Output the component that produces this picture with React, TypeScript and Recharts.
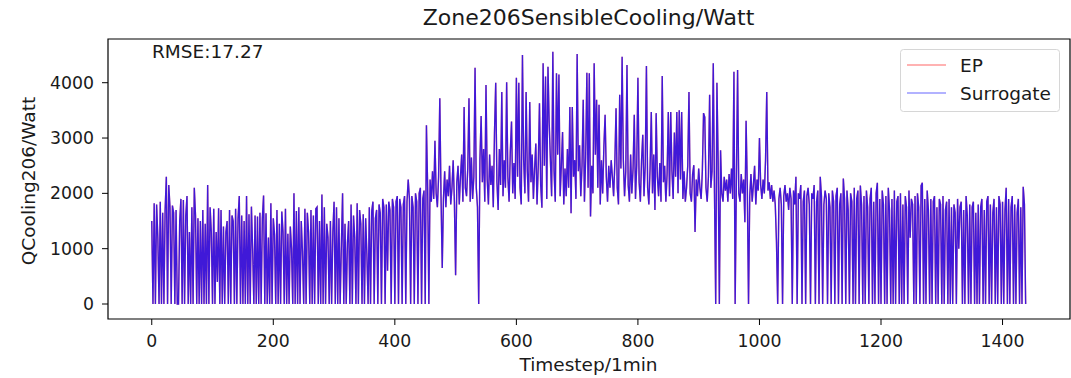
import { LineChart, Line, XAxis, YAxis, ReferenceArea } from "recharts";

const STEP = 2;

const epWatts = [
  1500, 0, 1820, 0, 1800, 1200, 0, 1850, 0, 1650, 0, 1700, 2300, 0, 2150, 1750, 0, 1780, 1650, 0,
  1700, 0, 0, 1500, 1900, 0, 1880, 0, 1600, 1950, 0, 1300, 0, 1750, 0, 2100, 1600, 0, 1550, 0,
  1500, 0, 1700, 0, 1450, 0, 2150, 0, 1750, 1300, 0, 1720, 0, 1300, 400, 1730, 0, 1700, 0, 1400,
  0, 1300, 1500, 0, 1700, 0, 1600, 1500, 0, 1720, 0, 1550, 1950, 0, 1600, 0, 1500, 0, 1950, 0,
  1620, 0, 1760, 1000, 0, 1600, 0, 1580, 0, 1650, 0, 1550, 1960, 0, 1640, 0, 1200, 0, 1820, 0,
  1550, 1250, 0, 1700, 0, 1450, 0, 1670, 1300, 0, 1720, 0, 1270, 0, 1400, 1000, 0, 2000, 0, 1680,
  0, 1750, 0, 1500, 950, 0, 1720, 0, 1650, 1300, 0, 1700, 0, 1600, 0, 1720, 1750, 0, 1500, 0,
  1980, 0, 1750, 0, 1450, 1200, 0, 1500, 0, 1300, 1850, 0, 1750, 0, 1550, 0, 1050, 2000, 0, 1450,
  0, 1100, 1500, 0, 1800, 0, 1600, 1200, 0, 1820, 0, 1700, 1450, 0, 1620, 0, 1550, 900, 0, 1750,
  0, 1680, 1850, 0, 1550, 1700, 0, 1800, 1650, 0, 1900, 1750, 0, 1800, 600, 1850, 1700, 0, 1900, 1750,
  0, 1850, 1950, 0, 1900, 1750, 0, 1800, 1950, 0, 1850, 2250, 1900, 0, 1950, 1750, 0, 2000, 1850, 0,
  2000, 2100, 0, 1900, 2050, 0, 3230, 2100, 0, 2250, 1850, 2400, 1900, 2950, 2000, 1750, 2300, 3720, 1950, 650,
  1900, 2400, 1750, 2250, 1950, 2500, 1800, 2100, 2600, 1850, 520, 2200, 2500, 1800, 2300, 2700, 1850, 3560, 2100, 1950,
  2450, 3720, 1850, 2650, 1900, 2300, 4270, 2100, 1750, 0, 2600, 3400, 2200, 2800, 1850, 3960, 2250, 1800, 2700, 2150,
  2500, 1750, 3100, 4000, 2200, 1700, 2800, 2150, 3830, 1950, 2600, 2100, 4010, 2300, 1850, 2750, 3300, 2000, 2550, 1900,
  4090, 2300, 4000, 2100, 1800, 4500, 2600, 2000, 3830, 2400, 1850, 3650, 2200, 2700, 1900, 2450, 2900, 1800, 2500, 3630,
  2150, 1740, 4350, 2500, 4110, 1900, 4290, 3270, 2600, 1950, 4560, 2400, 1850, 4170, 2700, 4150, 1950, 2500, 3110, 1800,
  2450, 1950, 2800, 2100, 3560, 1640, 3560, 2300, 2600, 1900, 4520, 2400, 2870, 1950, 2500, 3690, 1850, 2650, 4180, 2100,
  4170, 1580, 2500, 2000, 4350, 2700, 3690, 2100, 3600, 1800, 2600, 2000, 2850, 3420, 2300, 1850, 2500, 2100, 2600, 2300,
  1950, 2550, 3540, 2100, 1800, 3780, 2450, 4470, 2600, 1950, 2400, 4320, 2150, 1850, 2700, 2000, 2450, 3420, 1900, 2500,
  4090, 2200, 1850, 2600, 3060, 1950, 2500, 4300, 2100, 1800, 2450, 3470, 2000, 2700, 1700, 3450, 2300, 1950, 2550, 1850,
  4120, 2200, 2500, 1850, 2350, 3470, 1950, 3470, 2400, 1900, 3100, 2300, 3470, 2000, 3500, 2250, 3470, 1900, 2400, 1850,
  2100, 2500, 3830, 2000, 1850, 2350, 2510, 1300, 2250, 1950, 2450, 2100, 1900, 2400, 3450, 3380, 2100, 1850, 2300, 3780,
  2100, 2400, 4350, 2000, 0, 4000, 2600, 0, 2780, 2000, 1850, 2300, 2050, 2250, 1850, 2350, 2000, 2450, 1900, 4200,
  0, 2200, 4230, 2000, 1850, 2350, 2000, 2250, 1480, 3310, 2100, 0, 1950, 2350, 1850, 2150, 2500, 1800, 2250, 2050,
  3000, 2150, 1900, 2250, 2000, 2600, 3830, 2050, 2200, 1900, 2150, 1850, 2050, 1800, 1120, 0, 1900, 2100, 1800, 0,
  1950, 2150, 1850, 2000, 1700, 2100, 1900, 0, 2050, 1800, 2300, 0, 2000, 1900, 2150, 0, 1850, 2050, 0, 1950,
  2100, 1800, 0, 2000, 1900, 2150, 0, 1850, 2050, 0, 2300, 1950, 0, 1800, 2050, 1900, 0, 2000, 1750, 0,
  2050, 1850, 0, 1950, 2100, 0, 1800, 2000, 0, 2270, 1900, 0, 2050, 1700, 0, 2000, 1850, 0, 2100, 0,
  1900, 2050, 0, 2140, 1800, 0, 1950, 0, 2050, 1750, 0, 1900, 2100, 0, 1850, 0, 2000, 2190, 0, 1900,
  0, 2050, 1800, 0, 1950, 0, 2100, 1700, 0, 1900, 0, 2050, 0, 1850, 1950, 0, 2000, 0, 1800, 0,
  1950, 1750, 0, 2050, 1200, 1900, 1800, 0, 1950, 0, 2000, 1750, 0, 2140, 2190, 0, 1900, 0, 2050, 1700,
  0, 1900, 0, 1850, 1950, 0, 1750, 0, 1900, 1800, 0, 1950, 0, 1700, 1850, 0, 1900, 0, 1750, 0,
  1800, 1650, 0, 1900, 1000, 1750, 1850, 0, 1700, 0, 1950, 1600, 0, 1800, 0, 1750, 1850, 0, 1650, 0,
  1800, 0, 1750, 1900, 0, 1700, 0, 1850, 1950, 0, 1800, 0, 1650, 1900, 0, 1750, 0, 1950, 1800, 0,
  1850, 0, 1700, 2100, 0, 1900, 0, 1750, 1950, 0, 1800, 0, 1650, 1900, 0, 1750, 0, 2120, 1800, 0,
];

// the surrogate trace sits on top of EP to within a pixel everywhere
const surrogateWatts = epWatts;

const xTicks = [0, 200, 400, 600, 800, 1000, 1200, 1400];
const yTicks = [0, 1000, 2000, 3000, 4000];
const seriesNames = ["EP", "Surrogate"];

const data = epWatts.map((v, i) => ({
  t: i * STEP,
  ep: v,
  surrogate: surrogateWatts[i],
}));

const FONT = "'DejaVu Sans', sans-serif";
const INK = "#1a1a1a";
const LABEL_SIZE = 18.5;

export default function App() {
  return (
    <div style={{ position: "absolute", left: 0, top: 0, width: 1071, height: 378, background: "#fff" }}>
      <LineChart
        width={1071}
        height={378}
        data={data}
        margin={{ top: 39, right: 1, bottom: 19, left: 48 }}
      >
        <XAxis
          dataKey="t"
          type="number"
          domain={[-72, 1511]}
          ticks={xTicks}
          height={40}
          axisLine={false}
          tickSize={6}
          tickMargin={10}
          tickLine={{ stroke: "#000" }}
          tick={{ fill: INK, fontSize: 17.3, fontFamily: FONT }}
        />
        <YAxis
          type="number"
          domain={[-271, 4790]}
          ticks={yTicks}
          width={60}
          axisLine={false}
          tickSize={6}
          tickMargin={8}
          tickLine={{ stroke: "#000" }}
          tick={{ fill: INK, fontSize: 17.3, fontFamily: FONT }}
        />
        <ReferenceArea
          x1={-72}
          x2={1511}
          y1={-271}
          y2={4790}
          fill="none"
          stroke="#000"
          strokeWidth={1.2}
          ifOverflow="visible"
        />
        <Line
          type="linear"
          dataKey="ep"
          name="EP"
          stroke="red"
          strokeOpacity={0.6}
          strokeWidth={1.4}
          dot={false}
          isAnimationActive={false}
        />
        <Line
          type="linear"
          dataKey="surrogate"
          name="Surrogate"
          stroke="blue"
          strokeOpacity={0.75}
          strokeWidth={1.4}
          dot={false}
          isAnimationActive={false}
        />
      </LineChart>
      <svg
        width={1071}
        height={378}
        style={{ position: "absolute", left: 0, top: 0, pointerEvents: "none" }}
      >
        <text x={588.5} y={25} textAnchor="middle" fontFamily={FONT} fontSize={22} fill={INK}>
          Zone206SensibleCooling/Watt
        </text>
        <text x={152} y={58} fontFamily={FONT} fontSize={LABEL_SIZE} fill={INK}>
          RMSE:17.27
        </text>
        <text x={588.5} y={371} textAnchor="middle" fontFamily={FONT} fontSize={LABEL_SIZE} fill={INK}>
          Timestep/1min
        </text>
        <text
          x={0}
          y={0}
          transform="translate(35,181) rotate(-90)"
          textAnchor="middle"
          fontFamily={FONT}
          fontSize={LABEL_SIZE}
          fill={INK}
        >
          QCooling206/Watt
        </text>
        <g transform="translate(900,49)">
          <rect x={0.5} y={0.5} width={159} height={62} rx={3} fill="#fff" fillOpacity={0.8} stroke="#d6d6d6" />
          <line x1={7} x2={46} y1={16} y2={16} stroke="red" strokeOpacity={0.6} strokeWidth={1.2} />
          <line x1={7} x2={46} y1={44} y2={44} stroke="blue" strokeOpacity={0.6} strokeWidth={1.2} />
          <text x={60} y={22.5} fontFamily={FONT} fontSize={LABEL_SIZE} fill={INK}>{seriesNames[0]}</text>
          <text x={60} y={50.5} fontFamily={FONT} fontSize={LABEL_SIZE} fill={INK}>{seriesNames[1]}</text>
        </g>
      </svg>
    </div>
  );
}
